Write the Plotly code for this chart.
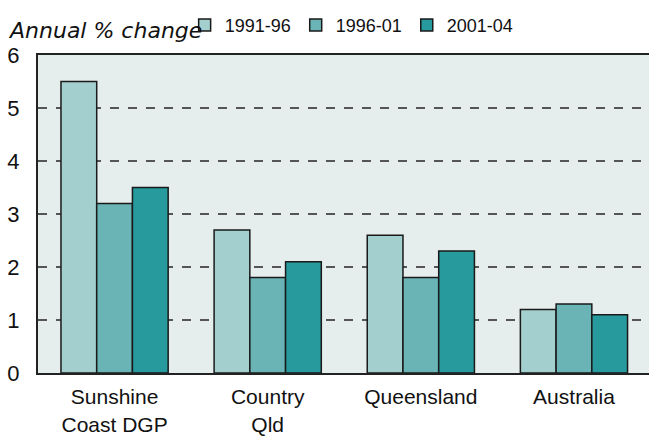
import plotly.graph_objects as go

categories = ["Sunshine<br>Coast DGP", "Country<br>Qld", "Queensland", "Australia"]
series_names = ["1991-96", "1996-01", "2001-04"]
v_1991_96 = [5.5, 2.7, 2.6, 1.2]
v_1996_01 = [3.2, 1.8, 1.8, 1.3]
v_2001_04 = [3.5, 2.1, 2.3, 1.1]
y_ticks = [0, 1, 2, 3, 4, 5, 6]

colors = ["#A3CFCE", "#6AB4B6", "#269A9C"]
values = [v_1991_96, v_1996_01, v_2001_04]

fig = go.Figure()
for name, vals, col in zip(series_names, values, colors):
    fig.add_trace(go.Bar(
        x=categories, y=vals, name=name,
        marker=dict(color=col, line=dict(color="#1a1a1a", width=1.5)),
    ))

fig.update_layout(
    width=649, height=437,
    margin=dict(l=38, r=0, t=55, b=64, autoexpand=False),
    paper_bgcolor="white",
    plot_bgcolor="#E5EEEC",
    barmode="group",
    bargap=0.3,
    bargroupgap=0,
    font=dict(family="Liberation Sans", size=20, color="#111"),
    showlegend=True,
    legend=dict(
        orientation="h", x=0.24, y=1.035, xanchor="left", yanchor="bottom",
        font=dict(family="Liberation Sans", size=18, color="#111"),
        itemwidth=30, traceorder="normal", bgcolor="rgba(0,0,0,0)",
    ),
    xaxis=dict(
        range=[-0.5, 3.49], showline=True, linecolor="#222", linewidth=2,
        mirror=True, ticks="outside", ticklen=4, tickcolor="rgba(0,0,0,0)",
        tickfont=dict(family="Liberation Sans", size=21),
        automargin=False,
    ),
    yaxis=dict(
        range=[0, 6], tickvals=y_ticks, showline=True, linecolor="#222", linewidth=2,
        showgrid=True, gridcolor="#555", griddash="dash", gridwidth=2,
        zeroline=False, ticks="", tickfont=dict(family="Liberation Sans", size=22),
        ticklabelstandoff=12, automargin=False,
    ),
    annotations=[dict(
        text="Annual % change", xref="paper", yref="paper", x=-0.053, y=1.03,
        xanchor="left", yanchor="bottom", showarrow=False,
        font=dict(family="DejaVu Sans", size=22, color="#111", style="italic"),
    )],
)

fig.write_html("out.html", config={"displayModeBar": False},
               post_script="document.body.style.margin='0px';")
